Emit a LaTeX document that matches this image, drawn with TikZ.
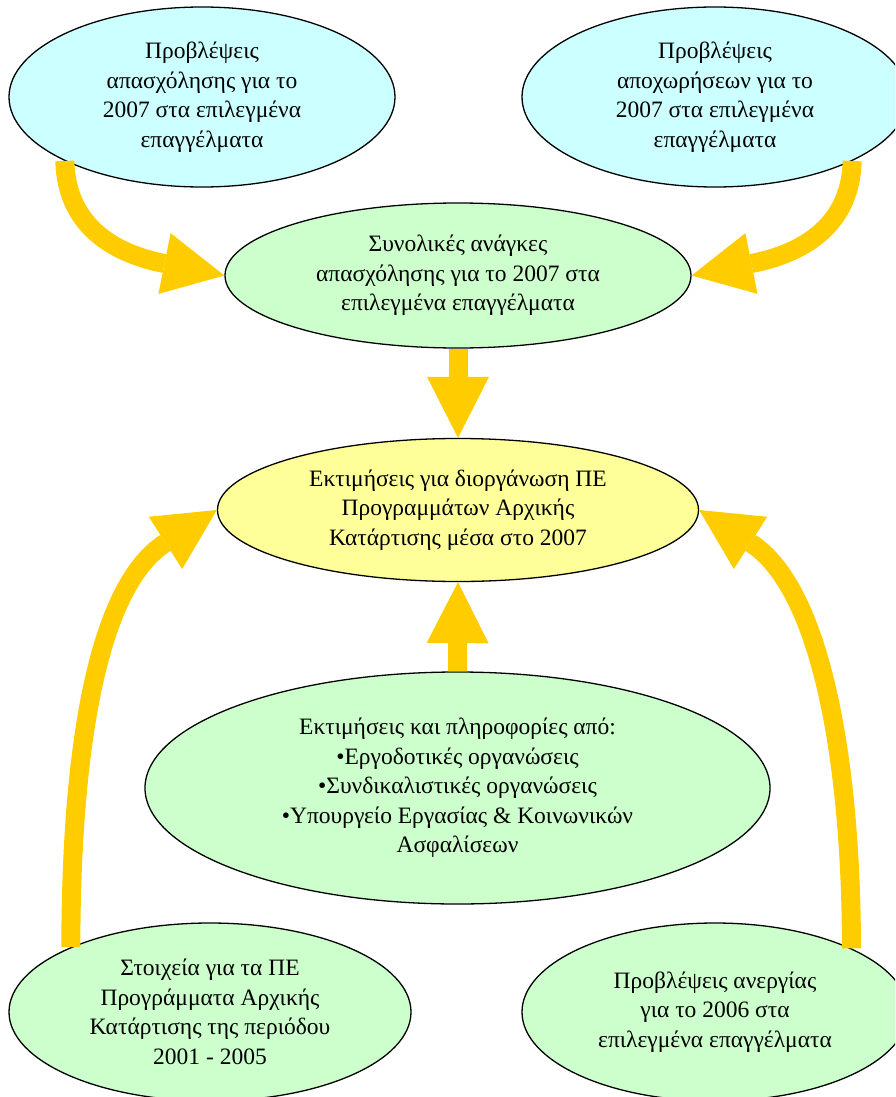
\documentclass[tikz,border=0pt]{standalone}
\usepackage{fontspec}
\setmainfont{Liberation Serif}
\usetikzlibrary{shapes.geometric,arrows.meta}
\definecolor{cyanfill}{HTML}{CCFFFF}
\definecolor{greenfill}{HTML}{CCFFCC}
\definecolor{yellowfill}{HTML}{FFFF99}
\definecolor{arrowcol}{HTML}{FFCC00}
\tikzset{
  oval/.style={ellipse, draw=black, line width=1.3pt, inner sep=0pt, align=center,
    font=\fontsize{23.5}{29.5}\selectfont},
  flow/.style={draw=arrowcol, line width=19pt,
    -{Triangle[length=61pt,width=62pt,line width=0pt,fill=arrowcol]}},
}
\begin{document}
\begin{tikzpicture}[x=1pt,y=-1pt]
\useasboundingbox (0,0) rectangle (895,1097);
\clip (0,0) rectangle (895,1097);
\node[oval, fill=cyanfill, minimum width=386pt, minimum height=180pt] (tl) at (202,97)
  {Προβλέψεις\\απασχόλησης για το\\2007 στα επιλεγμένα\\επαγγέλματα};
\node[oval, fill=cyanfill, minimum width=386pt, minimum height=180pt] (tr) at (715,97)
  {Προβλέψεις\\αποχωρήσεων για το\\2007 στα επιλεγμένα\\επαγγέλματα};
\node[oval, fill=greenfill, minimum width=466pt, minimum height=145pt] (mid) at (458,275.5)
  {Συνολικές ανάγκες\\απασχόλησης για το 2007 στα\\επιλεγμένα επαγγέλματα};
\node[oval, fill=yellowfill, minimum width=481pt, minimum height=143pt] (yel) at (458,510)
  {Εκτιμήσεις για διοργάνωση ΠΕ\\Προγραμμάτων Αρχικής\\Κατάρτισης μέσα στο 2007};
\node[oval, fill=greenfill, minimum width=625pt, minimum height=232pt] (big) at (457.5,788)
  {Εκτιμήσεις και πληροφορίες από:\\•Εργοδοτικές οργανώσεις\\•Συνδικαλιστικές οργανώσεις\\•Υπουργείο Εργασίας \& Κοινωνικών\\Ασφαλίσεων};
\node[oval, fill=greenfill, minimum width=402pt, minimum height=178pt] (bl) at (210,1012)
  {Στοιχεία για τα ΠΕ\\Προγράμματα Αρχικής\\Κατάρτισης της περιόδου\\2001 - 2005};
\node[oval, fill=greenfill, minimum width=386pt, minimum height=178pt] (br) at (715,1012)
  {Προβλέψεις ανεργίας\\για το 2006 στα\\επιλεγμένα επαγγέλματα};
\draw[flow] (tl.205.4) .. controls +(2,75) and +(-95,-19) .. (mid.west);
\draw[flow] (tr.-25.4) .. controls +(-2,75) and +(95,-19) .. (mid.east);
\draw[flow] (mid.south) -- (yel.north);
\draw[flow] (big.north) -- (yel.south);
\draw[flow] (bl.155.85) .. controls +(0,-175) and +(-125,80) .. (yel.west);
\draw[flow] (br.25.2) .. controls +(0,-175) and +(125,80) .. (yel.east);
\end{tikzpicture}
\end{document}
